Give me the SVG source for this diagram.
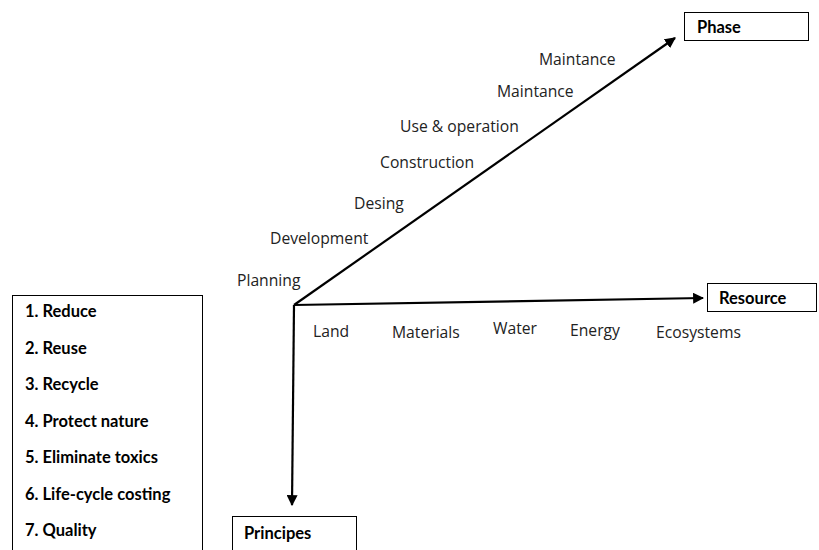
<svg xmlns="http://www.w3.org/2000/svg" width="819" height="550" viewBox="0 0 819 550">
<style>
.box{fill:#fff;stroke:#000;stroke-width:1}
.b{font-family:Lato,"Liberation Sans",sans-serif;font-weight:bold;font-size:16.5px;fill:#000}
.t{font-family:"Open Sans","Liberation Sans",sans-serif;font-size:15.7px;fill:#222}
.ax{stroke:#000;stroke-width:2.2;fill:none}
</style>
<defs>
<marker id="ah" viewBox="0 0 10 10" refX="9" refY="5" markerWidth="5" markerHeight="5" orient="auto" markerUnits="strokeWidth">
<path d="M0,0 L10,5 L0,10 z" fill="#000"/>
</marker>
</defs>
<rect width="819" height="550" fill="#fff"/>
<g id="connectors">
<line class="ax" x1="294" y1="305" x2="675" y2="38" marker-end="url(#ah)"/>
<line class="ax" x1="294" y1="305" x2="703" y2="298" marker-end="url(#ah)"/>
<line class="ax" x1="294" y1="305" x2="292" y2="505" marker-end="url(#ah)"/>
</g>
<g id="phase">
<rect class="box" x="684.5" y="12.5" width="124" height="28"/>
<text class="b" x="697" y="33">Phase</text>
</g>
<g id="resource">
<rect class="box" x="707.5" y="283.5" width="109" height="28"/>
<text class="b" x="719" y="304">Resource</text>
</g>
<g id="principes">
<rect class="box" x="232.5" y="516.5" width="124" height="40"/>
<text class="b" x="244" y="539">Principes</text>
</g>
<g id="principles-list">
<rect class="box" x="12.5" y="295.5" width="190" height="260"/>
<text class="b" x="25" y="317">1. Reduce</text>
<text class="b" x="25" y="354">2. Reuse</text>
<text class="b" x="25" y="390">3. Recycle</text>
<text class="b" x="25" y="427">4. Protect nature</text>
<text class="b" x="25" y="463">5. Eliminate toxics</text>
<text class="b" x="25" y="500">6. Life-cycle costing</text>
<text class="b" x="25" y="536">7. Quality</text>
</g>
<g id="phase-labels">
<text class="t" x="539" y="65">Maintance</text>
<text class="t" x="497" y="97">Maintance</text>
<text class="t" x="400" y="132">Use &amp; operation</text>
<text class="t" x="380" y="168">Construction</text>
<text class="t" x="354" y="209">Desing</text>
<text class="t" x="270" y="244">Development</text>
<text class="t" x="237" y="286">Planning</text>
</g>
<g id="resource-labels">
<text class="t" x="313" y="337">Land</text>
<text class="t" x="392" y="338">Materials</text>
<text class="t" x="493" y="334">Water</text>
<text class="t" x="570" y="336">Energy</text>
<text class="t" x="656" y="338">Ecosystems</text>
</g>
</svg>
